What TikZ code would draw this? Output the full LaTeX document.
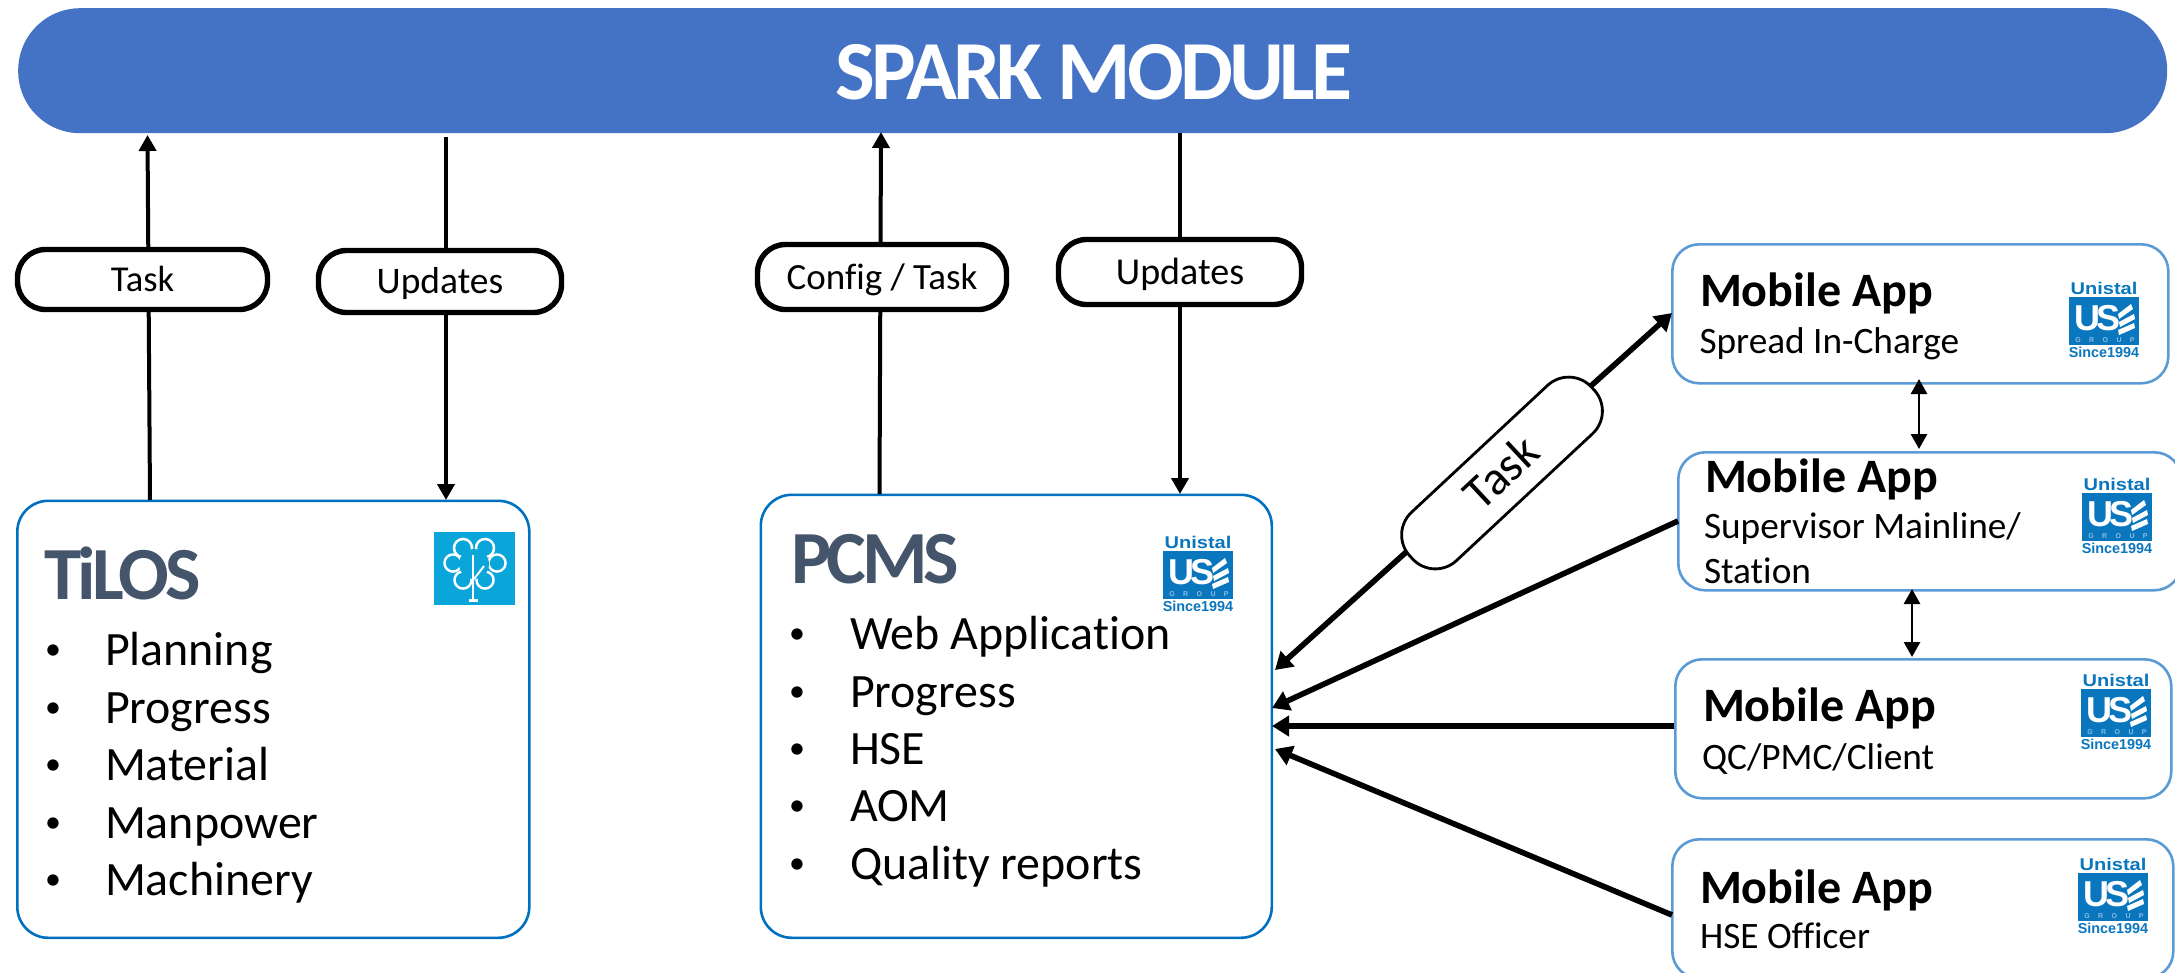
\documentclass[tikz,border=0pt]{standalone}
\usepackage{fontspec}
\setmainfont[Ligatures=NoCommon]{Carlito}
\newfontfamily\logofont{Liberation Sans}
\usetikzlibrary{arrows.meta}
\definecolor{bannerblue}{HTML}{4472C4}
\definecolor{mainedge}{HTML}{0070C0}
\definecolor{appedge}{HTML}{5B9BD5}
\definecolor{titlegrey}{HTML}{44546A}
\definecolor{logoblue}{HTML}{0A76BE}
\definecolor{logopale}{HTML}{8DBFE2}
\definecolor{tilosblue}{HTML}{0BA6D9}
\newcommand\fsz[1]{\fontsize{#1}{#1}\selectfont}
\tikzset{
  x=1pt,y=-1pt,
  txt/.style={inner sep=0pt,outer sep=0pt,anchor=base west},
  mainbox/.style={draw=mainedge,line width=2.6pt,rounded corners=31pt,fill=white,inner sep=0pt,anchor=north west},
  appbox/.style={draw=appedge,line width=2.6pt,rounded corners=27pt,fill=white,inner sep=0pt,anchor=north west},
  pill/.style={draw=black,fill=white,line width=5.4pt,rounded corners=28pt,inner sep=0pt,text height=24pt,text depth=0pt,align=center},
  thinarrow/.style={line width=4pt,-{Triangle[length=16pt,width=17pt]}},
  fatarrow/.style={line width=5.6pt,-{Triangle[length=17pt,width=20pt]}},
  duplex/.style={line width=2.8pt,{Triangle[length=15pt,width=16pt]}-{Triangle[length=15pt,width=16pt]}},
  bullet/.style={inner sep=0pt,outer sep=0pt,anchor=base,yshift=5.8pt,font=\fsz{32}},
  listtext/.style={txt,font=\fsz{47.9}},
  bigtitle/.style={txt,text=titlegrey},
  apphead/.style={txt,font=\fsz{48}\bfseries},
  appsub/.style={txt,font=\fsz{37.3}},
  logotext/.style={inner sep=0pt,outer sep=0pt,anchor=base,text=logoblue},
}
\newcommand\uselogo[3]{%
  \begin{scope}[shift={(#2,#3)}]
    \fill[logoblue] (0,0) rectangle (70,48);
    \node[logotext,font=\logofont\bfseries\fsz{17}\addfontfeature{FakeStretch=1.18}] (#1-unistal) at (35,-3) {Unistal};
    \node[logotext,font=\logofont\bfseries\fsz{14.4}] (#1-since) at (35,60.5) {Since1994};
    \node[txt,text=white,font=\logofont\bfseries\fsz{36}\addfontfeature{LetterSpace=-9}] (#1-us) at (5,33) {US};
    \fill[white] (49,17) -- (62,7) -- (64,12) -- (50,22) -- cycle;
    \fill[white] (50,25) -- (65,17) -- (66,22) -- (51,30) -- cycle;
    \fill[white] (49,33) -- (65,26) -- (66,31) -- (50,38) -- cycle;
    \node[logotext,text=logopale,font=\logofont\bfseries\fsz{7}\addfontfeature{LetterSpace=120}] (#1-group) at (36,45) {GROUP};
  \end{scope}}
\begin{document}
\begin{tikzpicture}
\useasboundingbox (0,0) rectangle (2175,972);

% banner
\node[fill=bannerblue,rounded corners=62pt,minimum width=2149pt,minimum height=125pt,inner sep=0pt,anchor=north west] (banner) at (18,8) {};
\node[inner sep=0pt,anchor=base,text=white,font=\fsz{84}\bfseries\addfontfeature{LetterSpace=-4.7}] (bannertext) at (1094,99) {SPARK MODULE};

% main boxes
\node[mainbox,minimum width=512pt,minimum height=437pt] (tilos) at (16,499.5) {};
\node[mainbox,minimum width=511pt,minimum height=443pt] (pcms) at (759.5,493.5) {};

% app boxes
\node[appbox,minimum width=496pt,minimum height=139pt] (app1) at (1671,243) {};
\node[appbox,minimum width=503pt,minimum height=138pt] (app2) at (1677,451) {};
\node[appbox,minimum width=496pt,minimum height=139pt] (app3) at (1674,658) {};
\node[appbox,minimum width=501pt,minimum height=139pt] (app4) at (1671,838) {};

% connector ends
\coordinate (tilosA) at (150,500);
\coordinate (bannerA) at (147.5,135);
\coordinate (bannerB) at (446,137);
\coordinate (tilosB) at (446,500);
\coordinate (pcmsA) at (879.5,494);
\coordinate (bannerC) at (881,132);
\coordinate (bannerD) at (1180,133);
\coordinate (pcmsB) at (1180,494);
\coordinate (pcmsC) at (1275,670);
\coordinate (appC) at (1672,313);
\coordinate (pcmsD) at (1272,708);
\coordinate (appD) at (1678,521);
\coordinate (pcmsE) at (1272,726);
\coordinate (appE) at (1674,726);
\coordinate (pcmsF) at (1275,749);
\coordinate (appF) at (1672,915);
\coordinate (app1s) at (1919,379);
\coordinate (app2n) at (1919,449);
\coordinate (app2s) at (1912,589);
\coordinate (app3n) at (1912,657);

% connectors
\draw[thinarrow] (tilosA) -- (bannerA);
\draw[thinarrow] (bannerB) -- (tilosB);
\draw[thinarrow] (pcmsA) -- (bannerC);
\draw[thinarrow] (bannerD) -- (pcmsB);
\draw[line width=5.6pt,{Triangle[length=17pt,width=20pt]}-{Triangle[length=17pt,width=20pt]}] (pcmsC) -- (appC);
\draw[fatarrow] (appD) -- (pcmsD);
\draw[fatarrow] (appE) -- (pcmsE);
\draw[fatarrow] (appF) -- (pcmsF);
\draw[duplex] (app1s) -- (app2n);
\draw[duplex] (app2s) -- (app3n);

% pills
\node[pill,minimum width=250pt,minimum height=60pt,font=\fsz{36.5}] (pilltask) at (142.5,279.5) {Task};
\node[pill,minimum width=243pt,minimum height=62pt,font=\fsz{37.5}] (pillupd) at (440,281.5) {Updates};
\node[pill,minimum width=249pt,minimum height=65pt,font=\fsz{37}] (pillcfg) at (882,277) {Config / Task};
\node[pill,minimum width=243pt,minimum height=65pt,font=\fsz{38}] (pillupd2) at (1180,272) {Updates};
\node[draw=black,fill=white,line width=2.8pt,rounded corners=31pt,inner sep=0pt,minimum width=248pt,minimum height=66pt,text height=30pt,text depth=0pt,rotate=43,font=\fsz{48}] (pilltask2) at (1502,473) {Task};

% TiLOS text
\node[bigtitle,font=\fsz{75}\bfseries\addfontfeature{LetterSpace=-5}] (tilostitle) at (44,599) {TiLOS};
\node[bullet] (tb1) at (53,665) {•}; \node[listtext] (tl1) at (105,665) {Planning};
\node[bullet] (tb2) at (53,723) {•}; \node[listtext] (tl2) at (105,723) {Progress};
\node[bullet] (tb3) at (53,780) {•}; \node[listtext] (tl3) at (105,780) {Material};
\node[bullet] (tb4) at (53,838) {•}; \node[listtext] (tl4) at (105,838) {Manpower};
\node[bullet] (tb5) at (53,895) {•}; \node[listtext] (tl5) at (105,895) {Machinery};

% PCMS text
\node[bigtitle,font=\fsz{75}\bfseries\addfontfeature{LetterSpace=-5.5}] (pcmstitle) at (791,583) {PCMS};
\node[bullet] (pb1) at (797,649) {•}; \node[listtext] (pl1) at (850,649) {Web Application};
\node[bullet] (pb2) at (797,707) {•}; \node[listtext] (pl2) at (850,707) {Progress};
\node[bullet] (pb3) at (797,764) {•}; \node[listtext] (pl3) at (850,764) {HSE};
\node[bullet] (pb4) at (797,821) {•}; \node[listtext] (pl4) at (850,821) {AOM};
\node[bullet] (pb5) at (797,879) {•}; \node[listtext] (pl5) at (850,879) {Quality reports};

% app text
\node[apphead] (a1h) at (1700,306) {Mobile App};
\node[appsub] (a1s) at (1699.5,353) {Spread In-Charge};
\node[apphead] (a2h) at (1705,492) {Mobile App};
\node[appsub] (a2s) at (1704,538) {Supervisor Mainline/};
\node[appsub] (a2t) at (1704,583) {Station};
\node[apphead] (a3h) at (1703,721) {Mobile App};
\node[appsub] (a3s) at (1702,769) {QC/PMC/Client};
\node[apphead] (a4h) at (1700,903) {Mobile App};
\node[appsub] (a4s) at (1700,948) {HSE Officer};

% logos
\uselogo{lg0}{1163}{551}
\uselogo{lg1}{2069}{297}
\uselogo{lg2}{2082}{493}
\uselogo{lg3}{2081}{689}
\uselogo{lg4}{2078}{873}

% TiLOS emblem
\begin{scope}[shift={(434,532)}]
  \fill[tilosblue] (0,0) rectangle (81,73);
  \foreach \cx/\cy/\cr in {29/16/9,51/16/9,19/31/8.5,63/31/8.5,29/48/8.5,51/48/8.5}
    \fill[white] (\cx,\cy) circle[radius=\cr+1.3];
  \foreach \cx/\cy/\cr in {29/16/9,51/16/9,19/31/8.5,63/31/8.5,29/48/8.5,51/48/8.5}
    \fill[tilosblue] (\cx,\cy) circle[radius=\cr-1.3];
  \fill[tilosblue] (40,32) circle[radius=15];
  \draw[white,line width=2.6pt] (39,23) -- (39,68);
  \draw[white,line width=2.6pt] (35,68.5) -- (44,68.5);
  \draw[white,line width=2pt] (40,47) -- (50,34);
\end{scope}
\end{tikzpicture}
\end{document}
